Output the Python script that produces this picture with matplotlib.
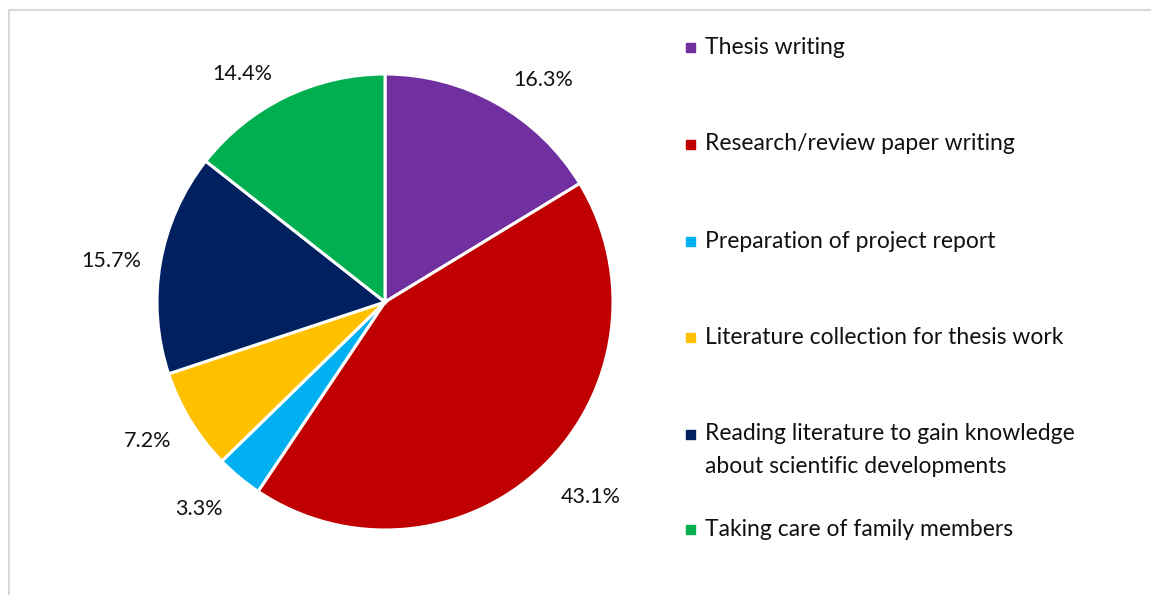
import matplotlib
matplotlib.use("Agg")
import numpy as np
import matplotlib.pyplot as plt
from matplotlib.patches import Rectangle
from matplotlib.lines import Line2D

categories = [
    "Thesis writing",
    "Research/review paper writing",
    "Preparation of project report",
    "Literature collection for thesis work",
    "Reading literature to gain knowledge\nabout scientific developments",
    "Taking care of family members",
]
values = [16.3, 43.1, 3.3, 7.2, 15.7, 14.4]
colors = ["#7030A0", "#C00000", "#00B0F0", "#FFC000", "#002060", "#00B050"]

# label placement tweaks (Excel "best fit" style): angle offset (deg), radius (x R)
label_dangle = [-6.1, 2.7, -2.1, -1.0, 1.3, 6.1]
label_radius = [1.194, 1.244, 1.221, 1.204, 1.215, 1.179]

W, H = 1151, 595
fig = plt.figure(figsize=(W / 100, H / 100), dpi=100)
plt.rcParams['font.family'] = ['Lato', 'DejaVu Sans']

# frame lines (chart border, cropped)
fig.add_artist(Line2D([9 / W, 1], [1 - 10 / H, 1 - 10 / H], color="#d9d9d9", lw=1.5, transform=fig.transFigure))
fig.add_artist(Line2D([9 / W, 9 / W], [0, 1 - 10 / H], color="#d9d9d9", lw=1.5, transform=fig.transFigure))

cx, cy, R = 385, 302, 228
half = 300
ax = fig.add_axes([(cx - half) / W, (H - cy - half) / H, 2 * half / W, 2 * half / H])
lim = half / R
wedges, texts = ax.pie(
    values, colors=colors, startangle=90, counterclock=False,
    wedgeprops=dict(edgecolor="white", linewidth=2.2),
)
total = sum(values)
for w, v, da, r in zip(wedges, values, label_dangle, label_radius):
    mid = np.deg2rad((w.theta1 + w.theta2) / 2 + da)
    ax.text(r * np.cos(mid), r * np.sin(mid), f"{100 * v / total:.1f}%",
            ha="center", va="center", fontsize=15.5, color="#111111")
ax.set_xlim(-lim, lim)
ax.set_ylim(-lim, lim)
ax.set_aspect("auto")
ax.axis("off")

# legend (manual layout)
legend_y = [47, 144, 241, 337, 434, 529]
for lab, col, y in zip(categories, colors, legend_y):
    fig.add_artist(Rectangle((686 / W, 1 - (y + 5) / H), 9 / W, 9 / H, color=col, transform=fig.transFigure))
    n = lab.count("\n")
    if n:
        fig.text(705 / W, 1 - (y + 16) / H, lab, fontsize=16.5, va="center",
                 ha="left", color="#111111", linespacing=1.72)
    else:
        fig.text(705 / W, 1 - y / H, lab, fontsize=16.5, va="center",
                 ha="left", color="#111111")

fig.savefig("out.png", dpi=100)
